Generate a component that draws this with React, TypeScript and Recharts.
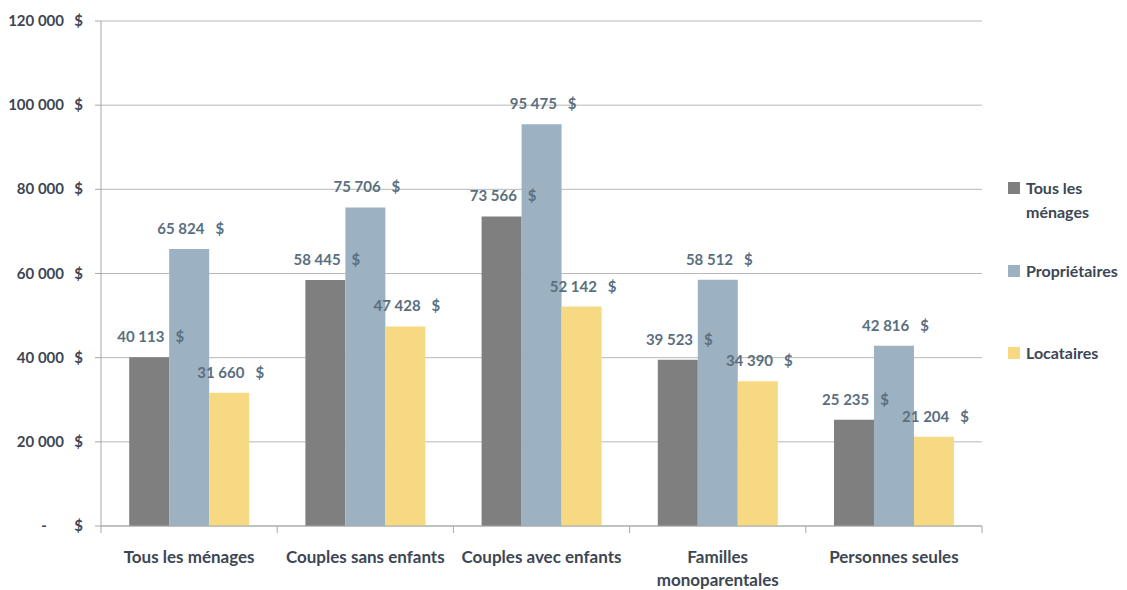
import React from 'react';
import { BarChart, Bar, XAxis, YAxis, CartesianGrid, LabelList } from 'recharts';

const categories = [
  'Tous les ménages',
  'Couples sans enfants',
  'Couples avec enfants',
  'Familles monoparentales',
  'Personnes seules',
];
const tousLesMenages = [40113, 58445, 73566, 39523, 25235];
const proprietaires = [65824, 75706, 95475, 58512, 42816];
const locataires = [31660, 47428, 52142, 34390, 21204];
const yTicks = [0, 20000, 40000, 60000, 80000, 100000, 120000];
const seriesKeys = ['tous', 'prop', 'loc'];
const seriesNames = ['Tous les ménages', 'Propriétaires', 'Locataires'];
const seriesColors = ['#7f7f7f', '#9cb2c2', '#f8d983'];

const data = categories.map((c, i) => ({
  name: c,
  tous: tousLesMenages[i],
  prop: proprietaires[i],
  loc: locataires[i],
}));

const FONT = 'Lato, "Liberation Sans", sans-serif';
const AXIS_TEXT = '#3d4654';
const LABEL_TEXT = '#5a6f80';
const LINE = '#a8a8a8';

const W = 1111;
const H = 582;
const M = { top: 13, right: 137, left: 0, bottom: 0 };
const Y_W = 93;
const X_H = 64;
const BAND = (W - M.right - Y_W) / categories.length;

const fmt = (n: number) => String(n).replace(/\B(?=(\d{3})+(?!\d))/g, '\u00a0');

const YTick = (props: any) => {
  const { x, y, payload } = props;
  const v = payload.value as number;
  return (
    <g fontFamily={FONT} fontWeight={700} fontSize={15} fill={AXIS_TEXT}>
      {v === 0 ? (
        <text x={x - 47} y={y} dy={5} textAnchor="middle">-</text>
      ) : (
        <text x={x - 27} y={y} dy={5} textAnchor="end">{fmt(v)}</text>
      )}
      <text x={x - 8} y={y} dy={5} textAnchor="end">$</text>
    </g>
  );
};

const XTick = (props: any) => {
  const { x, y, payload, index } = props;
  const name = payload.value as string;
  const words = name.split(' ');
  const lines: string[] = [];
  let cur = '';
  const maxChars = 21;
  words.forEach((w) => {
    const t = cur ? cur + ' ' + w : w;
    if (t.length > maxChars && cur) {
      lines.push(cur);
      cur = w;
    } else cur = t;
  });
  if (cur) lines.push(cur);
  return (
    <g>
      <line x1={x - BAND / 2} x2={x - BAND / 2} y1={y} y2={y + 7} stroke={LINE} />
      {index === categories.length - 1 && (
        <line x1={x + BAND / 2} x2={x + BAND / 2} y1={y} y2={y + 7} stroke={LINE} />
      )}
      <text
        x={x}
        y={y + 37}
        textAnchor="middle"
        fontFamily={FONT}
        fontWeight={700}
        fontSize={17}
        fill={AXIS_TEXT}
      >
        {lines.map((l, i) => (
          <tspan key={i} x={x} dy={i === 0 ? 0 : 23}>
            {l}
          </tspan>
        ))}
      </text>
    </g>
  );
};

const BarLabel = (props: any) => {
  const { x, y, width, value } = props;
  return (
    <text
      x={x + width / 2 + 1.5}
      y={y - 15}
      textAnchor="middle"
      fontFamily={FONT}
      fontWeight={700}
      fontSize={15}
      fill={LABEL_TEXT}
    >
      {fmt(value) + '\u00a0\u00a0\u00a0$'}
    </text>
  );
};

const legendTops = [173, 256, 338];

export default function App() {
  return (
    <div style={{ position: 'relative', width: W, height: H }}>
      <BarChart
        width={W}
        height={H}
        data={data}
        margin={M}
        barCategoryGap="16%"
        barGap={0}
      >
        <CartesianGrid horizontal vertical={false} stroke="#b8b8b8" />
        <XAxis
          dataKey="name"
          height={X_H}
          tickLine={false}
          tickSize={0}
          tickMargin={0}
          axisLine={{ stroke: LINE }}
          tick={<XTick />}
          interval={0}
        />
        <YAxis
          width={Y_W}
          domain={[0, 120000]}
          ticks={yTicks}
          interval={0}
          tickSize={6}
          tickMargin={4}
          tickLine={{ stroke: LINE }}
          axisLine={{ stroke: LINE }}
          tick={<YTick />}
        />
        <YAxis
          yAxisId="r"
          orientation="right"
          width={0}
          domain={[0, 120000]}
          tick={false}
          tickLine={false}
          axisLine={{ stroke: LINE }}
        />
        {seriesKeys.map((k, i) => (
          <Bar key={k} dataKey={k} name={seriesNames[i]} fill={seriesColors[i]} isAnimationActive={false}>
            <LabelList dataKey={k} content={<BarLabel />} />
          </Bar>
        ))}
      </BarChart>
      {seriesNames.map((n, i) => (
        <div
          key={n}
          style={{
            position: 'absolute',
            left: 1000,
            top: legendTops[i],
            display: 'flex',
            alignItems: 'flex-start',
            fontFamily: FONT,
            fontWeight: 700,
            fontSize: 16,
            lineHeight: '24px',
            color: AXIS_TEXT,
            whiteSpace: 'nowrap',
          }}
        >
          <span
            style={{
              display: 'inline-block',
              flex: '0 0 12px',
              width: 12,
              height: 12,
              background: seriesColors[i],
              marginRight: 6,
              marginTop: 1,
            }}
          />
          <span style={{ marginTop: -5 }}>
            {i === 0 ? (
              <>
                Tous les
                <br />
                ménages
              </>
            ) : (
              n
            )}
          </span>
        </div>
      ))}
    </div>
  );
}
